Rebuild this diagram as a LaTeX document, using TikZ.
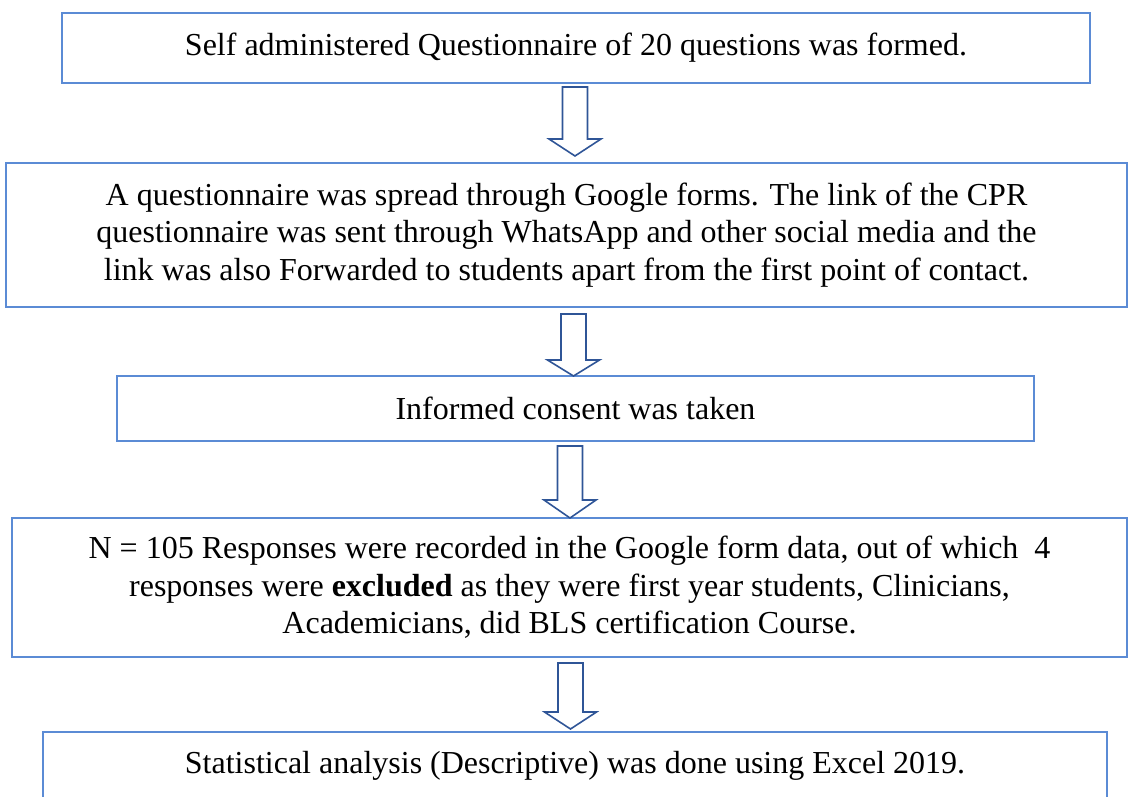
\documentclass[tikz,border=0pt]{standalone}
\usepackage{fontspec}
\setmainfont{Liberation Serif}
\definecolor{boxblue}{HTML}{5B8BD5}
\definecolor{arrblue}{HTML}{2F5597}
\newcommand{\blockarrow}[4]{%
  \draw[blockarr] (#1-12.5,#2) -- (#1+12.5,#2) -- (#1+12.5,#3) -- (#1+26,#3) -- (#1,#4) -- (#1-26,#3) -- (#1-12.5,#3) -- cycle;}
\begin{document}
\begin{tikzpicture}[x=1pt,y=-1pt,
  box/.style={draw=boxblue, line width=1.8pt, align=center, inner sep=0pt,
    font=\fontsize{32}{37.5}\selectfont},
  blockarr/.style={draw=arrblue, line width=1.6pt, line join=miter}]
\useasboundingbox (0,0) rectangle (1129,796);
\node[box, minimum width=1028pt, minimum height=70pt] (b1) at (576,48)
  {Self administered Questionnaire of 20 questions was formed.};
\node[box, minimum width=1121pt, minimum height=144pt] (b2) at (566.5,235)
  {A questionnaire was spread through Google forms. The link of the CPR\\
   questionnaire was sent through WhatsApp and other social media and the\\
   link was also Forwarded to students apart from the first point of contact.};
\node[box, minimum width=917pt, minimum height=65pt] (b3) at (575.5,408.5)
  {Informed consent was taken};
\node[box, minimum width=1115pt, minimum height=139pt] (b4) at (569.5,587.5)
  {N = 105 Responses were recorded in the Google form data, out of which\ \ 4\\
   responses were \textbf{excluded} as they were first year students, Clinicians,\\
   Academicians, did BLS certification Course.};
\node[box, minimum width=1064pt, minimum height=68pt] (b5) at (575,766)
  {Statistical analysis (Descriptive) was done using Excel 2019.};
\blockarrow{575}{87}{139}{156}
\blockarrow{573.5}{314}{360}{376}
\blockarrow{570}{446}{500}{518}
\blockarrow{570.5}{663}{712}{729}
\end{tikzpicture}
\end{document}
